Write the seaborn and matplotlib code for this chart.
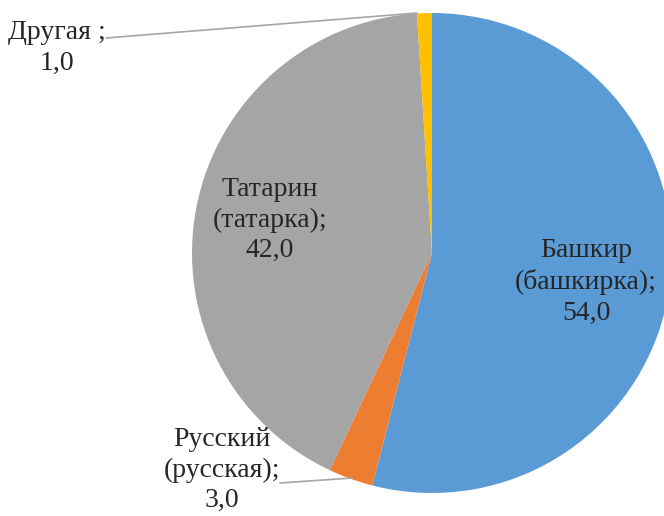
import matplotlib
matplotlib.use("Agg")
import matplotlib.pyplot as plt
import seaborn as sns

sns.set_style("white")
plt.rcParams['font.family'] = ['Liberation Serif', 'DejaVu Serif']

# Data
labels = ['Башкир\n(башкирка);\n54,0', 'Русский\n(русская);\n3,0',
          'Татарин\n(татарка);\n42,0', 'Другая ;\n1,0']
values = [54.0, 3.0, 42.0, 1.0]
colors = ['#5B9BD5', '#ED7D31', '#A5A5A5', '#FFC000']

fig = plt.figure(figsize=(6.64, 5.16), dpi=100)
ax = fig.add_axes([0, 0, 1, 1])

# pie in pixel-like coordinates (y up)
cx, cy, r = 432, 263, 240
ax.pie(values, colors=colors, startangle=90, counterclock=False,
       center=(cx, cy), radius=r, frame=True,
       wedgeprops=dict(linewidth=0))
ax.set_xlim(0, 664)
ax.set_ylim(0, 516)
ax.set_aspect('equal')
ax.axis('off')

# label positions (text centres), y measured from the bottom
label_pos = [(586, 234), (222, 46), (270, 296), (57, 468)]
for lab, (x, y) in zip(labels, label_pos):
    ax.text(x, y, lab, ha='center', va='center', fontsize=20,
            color='#262626', linespacing=1.3)

# leader lines
ax.plot([280, 352], [33, 38], color='#A6A6A6', lw=1.2)
ax.plot([106, 417], [478, 503], color='#A6A6A6', lw=1.2)

plt.savefig("out.png", dpi=100)
